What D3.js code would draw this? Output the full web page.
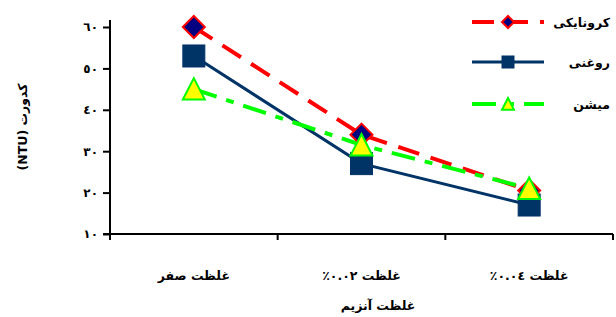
<!DOCTYPE html>
<html>
<head>
<meta charset="utf-8">
<script src="https://cdn.jsdelivr.net/npm/d3@7"></script>
<style>
  body { margin: 0; background: #fff; }
  text { font-family: "DejaVu Sans", "Noto Sans", sans-serif; font-weight: bold; }
</style>
</head>
<body>
<svg id="chart" width="616" height="317"></svg>
<script>
const categories = ['غلظت صفر', 'غلظت ٠.٠٢٪', 'غلظت ٠.٠٤٪'];
const yTicks = [10, 20, 30, 40, 50, 60];
const yTickLabels = ['١٠', '٢٠', '٣٠', '٤٠', '٥٠', '٦٠'];

const koronaiki = [60, 34, 20.5];
const roghani = [53, 27, 17];
const mishan = [45, 31.5, 21];

const seriesNames = ['کرونایکی', 'روغنی', 'میشن'];

const svg = d3.select('#chart');
const M = { left: 110, right: 613, top: 20, bottom: 234 };

const x = d3.scaleBand().domain(categories).range([M.left, M.right]);
const y = d3.scaleLinear().domain([10, 60]).range([M.bottom, 27]);

// axes
const yAxis = svg.append('g').attr('transform', `translate(${M.left},0)`)
  .call(d3.axisLeft(y).tickValues(yTicks).tickSize(7).tickPadding(5)
    .tickFormat((d, i) => yTickLabels[i]));
yAxis.select('.domain').attr('d', `M0,${M.top}V${M.bottom}`).attr('stroke-width', 2);
yAxis.selectAll('.tick line').attr('stroke-width', 2);
yAxis.selectAll('.tick text').attr('font-size', 12).attr('fill', '#000');

const xAxis = svg.append('g').attr('transform', `translate(0,${M.bottom})`)
  .call(d3.axisBottom(x).tickSize(0).tickFormat(''));
xAxis.select('.domain').attr('d', `M${M.left - 7},0H${M.right}`).attr('stroke-width', 2);
const bounds = [M.left, ...categories.map(c => x(c) + x.bandwidth())];
xAxis.selectAll('.bt').data(bounds).enter().append('line')
  .attr('x1', d => d).attr('x2', d => d).attr('y1', 0).attr('y2', 6)
  .attr('stroke', '#000').attr('stroke-width', 2);

svg.append('g').selectAll('text').data(categories).enter().append('text')
  .attr('x', d => x(d) + x.bandwidth() / 2)
  .attr('y', 280)
  .attr('text-anchor', 'middle')
  .attr('direction', 'rtl')
  .attr('font-size', 12.5)
  .text(d => d);

svg.append('text').attr('x', 378).attr('y', 310)
  .attr('text-anchor', 'middle').attr('direction', 'rtl')
  .attr('font-size', 12.5).text('غلظت آنزیم');

svg.append('text').attr('transform', 'translate(27,127) rotate(-90)')
  .attr('text-anchor', 'middle').attr('direction', 'rtl')
  .attr('font-size', 12.5).text('کدورت (NTU)');

// series
const series = [
  { name: seriesNames[0], values: koronaiki, color: '#ff0000', width: 4, dash: '22,12', marker: 'diamond' },
  { name: seriesNames[1], values: roghani, color: '#003366', width: 3, dash: null, marker: 'square' },
  { name: seriesNames[2], values: mishan, color: '#00ff00', width: 4, dash: '24,10,8,10', marker: 'triangle' }
];

const line = d3.line()
  .x((d, i) => x(categories[i]) + x.bandwidth() / 2)
  .y(d => y(d));

function drawMarker(g, type, cx, cy, s) {
  if (type === 'diamond') {
    g.append('path')
      .attr('d', `M${cx},${cy - s}L${cx + s},${cy}L${cx},${cy + s}L${cx - s},${cy}Z`)
      .attr('fill', '#000080').attr('stroke', '#ff0000').attr('stroke-width', 2);
  } else if (type === 'square') {
    g.append('rect').attr('x', cx - s).attr('y', cy - s)
      .attr('width', 2 * s).attr('height', 2 * s)
      .attr('fill', '#003366').attr('stroke', '#003366').attr('stroke-width', 1);
  } else {
    g.append('path')
      .attr('d', `M${cx},${cy - s}L${cx + s},${cy + s * 0.95}L${cx - s},${cy + s * 0.95}Z`)
      .attr('fill', '#ffff00').attr('stroke', '#00ff00').attr('stroke-width', 2);
  }
}

series.forEach(s => {
  svg.append('path').datum(s.values)
    .attr('d', line).attr('fill', 'none')
    .attr('stroke', s.color).attr('stroke-width', s.width)
    .attr('stroke-dasharray', s.dash);
});
series.forEach(s => {
  const g = svg.append('g');
  s.values.forEach((v, i) => {
    drawMarker(g, s.marker, x(categories[i]) + x.bandwidth() / 2, y(v), 11);
  });
});

// legend
const legendY = [22, 62, 104];
series.forEach((s, i) => {
  const g = svg.append('g');
  g.append('line').attr('x1', 472).attr('x2', 544)
    .attr('y1', legendY[i]).attr('y2', legendY[i])
    .attr('stroke', s.color).attr('stroke-width', s.width)
    .attr('stroke-dasharray', s.dash);
  drawMarker(g, s.marker, 508, legendY[i], 6);
  g.append('text').attr('x', 610).attr('y', legendY[i] + 5)
    .attr('text-anchor', 'start').attr('direction', 'rtl')
    .attr('font-size', 12.5).text(s.name);
});
</script>
</body>
</html>
